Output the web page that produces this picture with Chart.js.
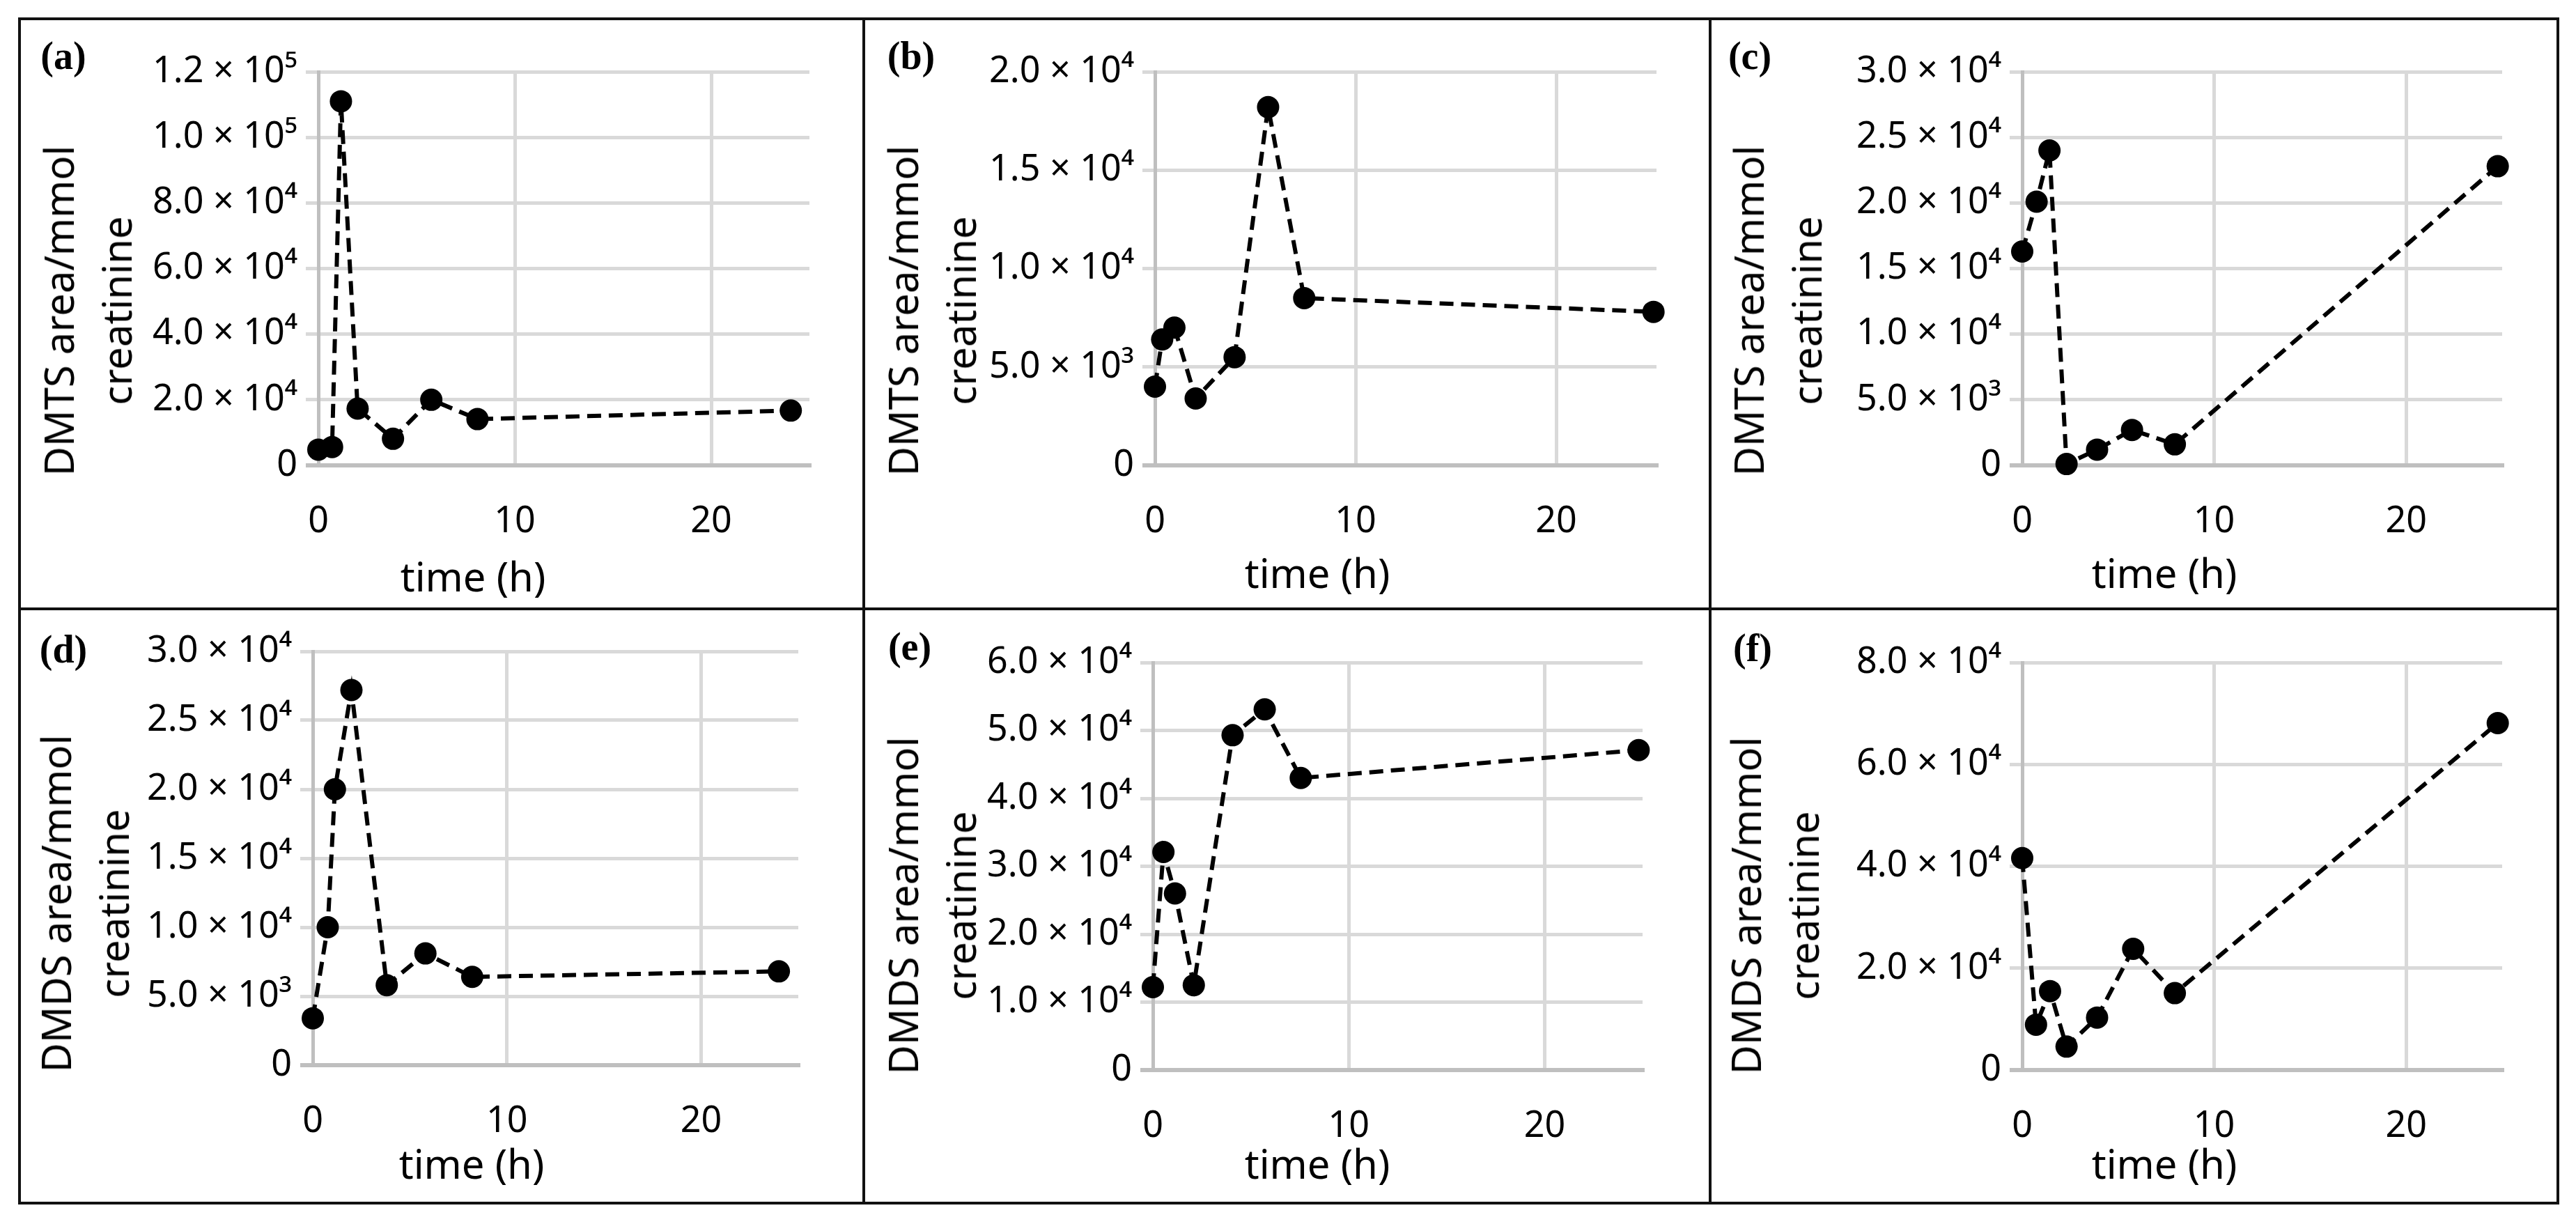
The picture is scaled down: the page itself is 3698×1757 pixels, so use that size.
<!DOCTYPE html>
<html>
<head>
<meta charset="utf-8">
<title>DMTS / DMDS time course</title>
<script src="https://cdn.jsdelivr.net/npm/chart.js@4.4.1/dist/chart.umd.min.js"></script>
<style>
html, body { margin: 0; padding: 0; background: #fff; }
#fig { position: relative; width: 3698px; height: 1757px; overflow: hidden; font-family: "Noto Sans", "Open Sans", sans-serif; color: #000; }
canvas { position: absolute; }
.frame { position: absolute; border: 4px solid #111; box-sizing: border-box; }
.rule { position: absolute; background: #111; }
.tag { position: absolute; font-family: "Liberation Serif", serif; font-weight: bold; font-size: 56px; line-height: 1; white-space: nowrap; transform: translate(-50%, -50%); }
.ytitle { position: absolute; font-size: 58px; line-height: 83px; text-align: center; white-space: nowrap; transform: translate(-50%, -50%) rotate(-90deg); }
.xtitle { position: absolute; font-size: 58px; line-height: 1; white-space: nowrap; transform: translate(-50%, -50%); }
</style>
</head>
<body>
<div id="fig"></div>
<script>
// measured series (time in h, area per mmol creatinine)
const timeA = [0, 0.7, 1.15, 2.0, 3.8, 5.75, 8.1, 24.05];
const dmtsA = [4800, 5600, 111000, 17300, 8100, 20000, 14100, 16700];

const timeB = [0, 0.36, 0.97, 2.03, 3.97, 5.64, 7.44, 24.85];
const dmtsB = [4000, 6400, 7000, 3400, 5500, 18200, 8500, 7800];

const timeC = [0, 0.75, 1.42, 2.31, 3.9, 5.72, 7.95, 24.77];
const dmtsC = [16300, 20100, 24000, 100, 1200, 2700, 1600, 22800];

const timeD = [0, 0.77, 1.14, 1.99, 3.81, 5.8, 8.21, 24.0];
const dmdsD = [3400, 10000, 20000, 27200, 5800, 8100, 6400, 6800];

const timeE = [0, 0.54, 1.13, 2.09, 4.07, 5.71, 7.55, 24.8];
const dmdsE = [12200, 32100, 26000, 12500, 49300, 53100, 43000, 47100];

const timeF = [0, 0.72, 1.45, 2.31, 3.9, 5.78, 7.95, 24.77];
const dmdsF = [41600, 8900, 15500, 4600, 10300, 23800, 15100, 68100];

// axis ticks and texts
const panelTags = ['(a)', '(b)', '(c)', '(d)', '(e)', '(f)'];
const yTitles = ['DMTS area/mmol', 'DMTS area/mmol', 'DMTS area/mmol', 'DMDS area/mmol', 'DMDS area/mmol', 'DMDS area/mmol'];
const yTitle2 = 'creatinine';
const xTitle = 'time (h)';
const yMaxes = [120000, 20000, 30000, 30000, 60000, 80000];
const ySteps = [20000, 5000, 5000, 5000, 10000, 20000];
const xTicks = [0, 10, 20];
const xMax = 25;

const seriesX = [timeA, timeB, timeC, timeD, timeE, timeF];
const seriesY = [dmtsA, dmtsB, dmtsC, dmdsD, dmdsE, dmdsF];

// page geometry (px)
const colX = [28, 1240, 2455, 3672];
const rowY = [27, 874, 1727];
const layout = [
    { row: 0, col: 0, area: [457, 103, 1162, 668], tag: [91, 80], yt: [125, 446], xt: [679, 827] },
    { row: 0, col: 1, area: [1658, 103, 2378, 668], tag: [1308, 80], yt: [1337, 446], xt: [1891, 822] },
    { row: 0, col: 2, area: [2903, 103, 3592, 668], tag: [2512, 80], yt: [2551, 446], xt: [3107, 822] },
    { row: 1, col: 0, area: [449, 935, 1146, 1529], tag: [91, 932], yt: [121, 1297], xt: [677, 1670] },
    { row: 1, col: 1, area: [1655, 951, 2358, 1536], tag: [1306, 928], yt: [1337, 1300], xt: [1891, 1670] },
    { row: 1, col: 2, area: [2903, 951, 3592, 1536], tag: [2516, 930], yt: [2547, 1300], xt: [3107, 1670] }
];

const SUP = { '0': '⁰', '1': '¹', '2': '²', '3': '³', '4': '⁴', '5': '⁵', '6': '⁶', '7': '⁷', '8': '⁸', '9': '⁹' };

function sciLabel(v) {
    if (Math.abs(v) < 1e-9) return '0';
    const e = Math.floor(Math.log10(v) + 1e-9);
    const m = v / Math.pow(10, e);
    return m.toFixed(1) + ' × 10' + String(e).split('').map(c => SUP[c]).join('');
}

const fig = document.getElementById('fig');

function addText(cls, x, y, html) {
    const d = document.createElement('div');
    d.className = cls;
    d.style.left = x + 'px';
    d.style.top = y + 'px';
    d.innerHTML = html;
    fig.appendChild(d);
}

layout.forEach((p, i) => {
    const x0 = colX[p.col], x1 = colX[p.col + 1];
    const y0 = rowY[p.row], y1 = rowY[p.row + 1];
    const [L, T, R, B] = p.area;

    const canvas = document.createElement('canvas');
    canvas.width = x1 - x0;
    canvas.height = y1 - y0;
    canvas.style.left = x0 + 'px';
    canvas.style.top = y0 + 'px';
    fig.appendChild(canvas);

    const xs = seriesX[i], ys = seriesY[i];

    new Chart(canvas, {
        type: 'scatter',
        data: {
            datasets: [{
                data: xs.map((t, k) => ({ x: t, y: ys[k] })),
                showLine: true,
                borderColor: '#000',
                borderWidth: 6,
                borderDash: [20, 11],
                tension: 0,
                pointRadius: 16,
                pointHoverRadius: 16,
                pointBackgroundColor: '#000',
                pointBorderWidth: 0,
                clip: false
            }]
        },
        options: {
            responsive: false,
            animation: false,
            devicePixelRatio: 1,
            events: [],
            layout: { padding: { left: 0, top: T - y0, right: x1 - R, bottom: 0 } },
            plugins: { legend: { display: false }, tooltip: { enabled: false } },
            scales: {
                x: {
                    type: 'linear',
                    min: 0,
                    max: xMax,
                    afterBuildTicks: s => { s.ticks = xTicks.map(v => ({ value: v })); },
                    ticks: {
                        padding: 50,
                        color: '#000',
                        maxRotation: 0,
                        font: { family: 'Noto Sans', size: 52 }
                    },
                    grid: { color: '#d9d9d9', lineWidth: 5, drawTicks: false },
                    border: { display: true, color: '#bfbfbf', width: 6 },
                    afterFit: s => { s.height = y1 - B; }
                },
                y: {
                    min: 0,
                    max: yMaxes[i],
                    ticks: {
                        stepSize: ySteps[i],
                        padding: 12,
                        color: '#000',
                        font: { family: 'Noto Sans', size: 52 },
                        callback: v => sciLabel(v)
                    },
                    grid: {
                        color: c => (c.tick && c.tick.value === 0) ? '#bfbfbf' : '#d9d9d9',
                        lineWidth: c => (c.tick && c.tick.value === 0) ? 6 : 5,
                        tickLength: 18
                    },
                    border: { display: true, color: '#bfbfbf', width: 5 },
                    afterFit: s => { s.width = L - x0; }
                }
            }
        }
    });

    addText('tag', p.tag[0], p.tag[1], panelTags[i]);
    addText('ytitle', p.yt[0], p.yt[1], yTitles[i] + '<br>' + yTitle2);
    addText('xtitle', p.xt[0], p.xt[1], xTitle);
});

// panel frame
const frame = document.createElement('div');
frame.className = 'frame';
frame.style.left = (colX[0] - 2) + 'px';
frame.style.top = (rowY[0] - 2) + 'px';
frame.style.width = (colX[3] - colX[0] + 4) + 'px';
frame.style.height = (rowY[2] - rowY[0] + 4) + 'px';
fig.appendChild(frame);

[colX[1], colX[2]].forEach(x => {
    const v = document.createElement('div');
    v.className = 'rule';
    v.style.left = (x - 2) + 'px';
    v.style.top = rowY[0] + 'px';
    v.style.width = '4px';
    v.style.height = (rowY[2] - rowY[0]) + 'px';
    fig.appendChild(v);
});
const h = document.createElement('div');
h.className = 'rule';
h.style.left = colX[0] + 'px';
h.style.top = (rowY[1] - 2) + 'px';
h.style.width = (colX[3] - colX[0]) + 'px';
h.style.height = '4px';
fig.appendChild(h);
</script>
</body>
</html>
